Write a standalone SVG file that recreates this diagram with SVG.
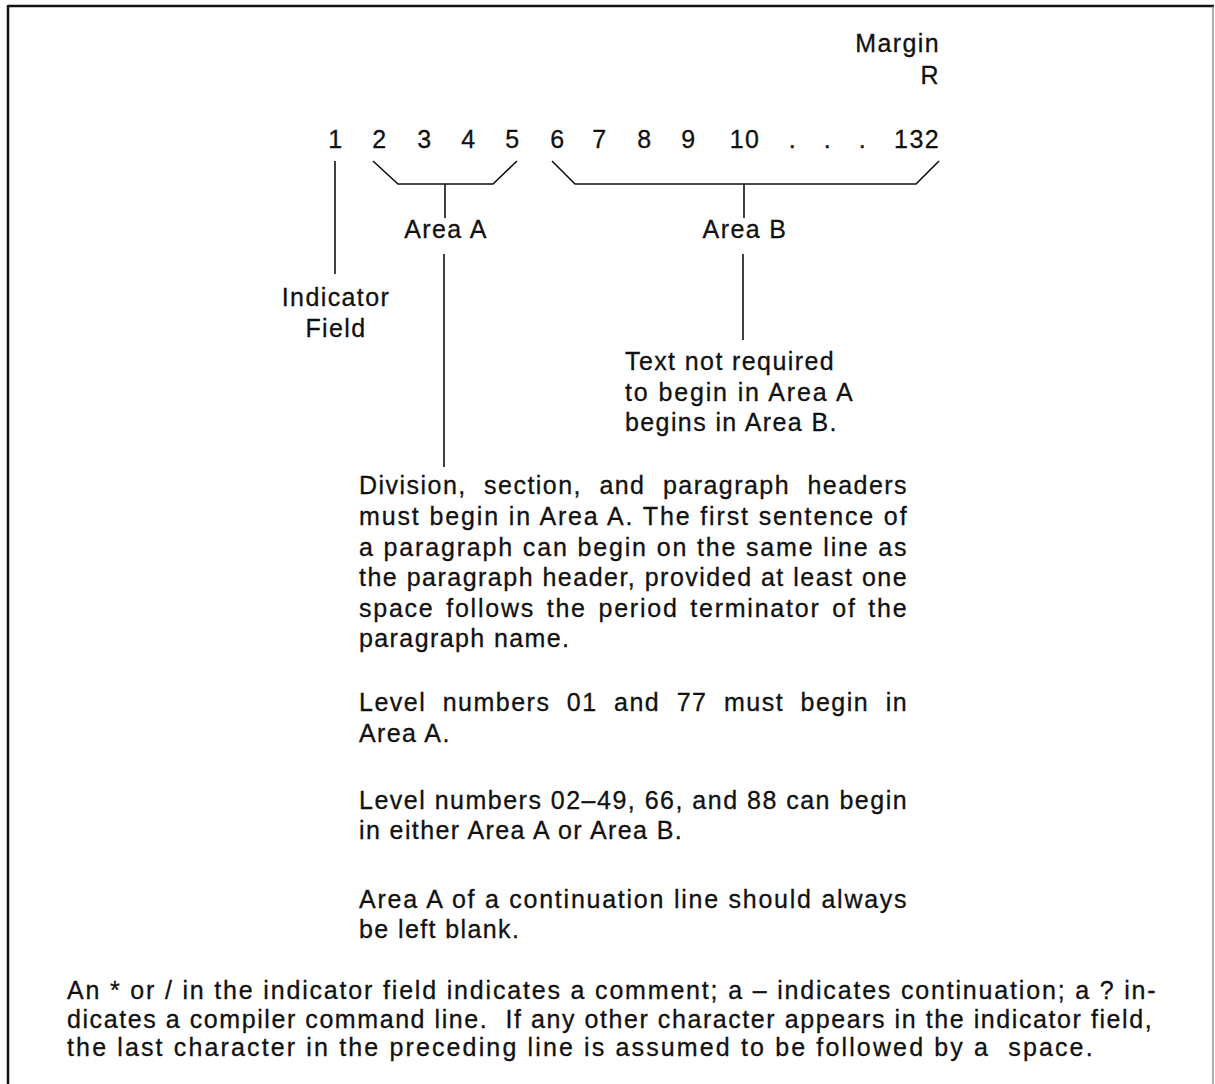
<svg xmlns="http://www.w3.org/2000/svg" width="1215" height="1084" viewBox="0 0 1215 1084">
  <style>
    text { font-family: "Liberation Sans", Arial, Helvetica, sans-serif; font-size: 25px; fill: #111; stroke: #111; stroke-width: 0.3px; letter-spacing: 1.4px; }
    .mid { text-anchor: middle; }
    .end { text-anchor: end; }
    .ln { stroke: #111; stroke-width: 1.6; fill: none; }
    .frame { stroke: #111; stroke-width: 2.5; fill: none; }
  </style>

  <rect width="1215" height="1084" fill="#fff"/>

  <!-- page frame (open at the bottom) -->
  <g id="frame">
    <line class="frame" x1="8" y1="6" x2="1214" y2="6"/>
    <line class="frame" x1="8" y1="5" x2="8" y2="1084"/>
    <line x1="1213" y1="6" x2="1213" y2="1084" stroke="#777" stroke-width="1.2"/>
  </g>

  <g id="margin-r">
    <text class="end" x="940" y="52">Margin</text>
    <text class="end" x="940" y="84">R</text>
  </g>

  <!-- column numbers -->
  <g id="columns">
    <text class="mid" x="336" y="148">1</text>
    <text class="mid" x="380" y="148">2</text>
    <text class="mid" x="425" y="148">3</text>
    <text class="mid" x="469" y="148">4</text>
    <text class="mid" x="513" y="148">5</text>
    <text class="mid" x="558" y="148">6</text>
    <text class="mid" x="600" y="148">7</text>
    <text class="mid" x="645" y="148">8</text>
    <text class="mid" x="689" y="148">9</text>
    <text class="mid" x="745" y="148">10</text>
    <text class="mid" x="793" y="148">.</text>
    <text class="mid" x="828" y="148">.</text>
    <text class="mid" x="863" y="148">.</text>
    <text class="end" x="940" y="148">132</text>
  </g>

  <g id="connectors">
    <!-- Area A bracket, columns 2-5 -->
    <polyline class="ln" points="373,161 398,184 493,184 517,161"/>
    <line class="ln" x1="445" y1="184" x2="445" y2="218"/>
    <!-- Area B bracket, columns 6-132 -->
    <polyline class="ln" points="552,161 575,184 916,184 939,161"/>
    <line class="ln" x1="744" y1="184" x2="744" y2="218"/>
    <!-- indicator column -->
    <line class="ln" x1="335" y1="161" x2="335" y2="274"/>
    <!-- Area A to its notes -->
    <line class="ln" x1="444" y1="254" x2="444" y2="467"/>
    <!-- Area B to its note -->
    <line class="ln" x1="743" y1="254" x2="743" y2="340"/>
  </g>

  <g id="area-a">
    <text class="mid" x="446" y="238">Area A</text>
  </g>

  <g id="area-b">
    <text class="mid" x="745" y="238">Area B</text>
  </g>

  <g id="indicator-field">
    <text class="mid" x="336" y="306">Indicator</text>
    <text class="mid" x="336" y="337">Field</text>
  </g>

  <g id="area-b-note">
    <text x="625" y="370">Text not required</text>
    <text x="625" y="401" textLength="229" lengthAdjust="spacing">to begin in Area A</text>
    <text x="625" y="431">begins in Area B.</text>
  </g>

  <!-- justified lines: extra word gaps, then textLength pins the right edge -->
  <g id="area-a-notes">
    <text x="359" y="494" word-spacing="9" textLength="549" lengthAdjust="spacing">Division, section, and paragraph headers</text>
    <text x="359" y="525" textLength="549" lengthAdjust="spacing">must begin in Area A. The first sentence of</text>
    <text x="359" y="556" textLength="549" lengthAdjust="spacing">a paragraph can begin on the same line as</text>
    <text x="359" y="586" textLength="549" lengthAdjust="spacing">the paragraph header, provided at least one</text>
    <text x="359" y="617" word-spacing="3" textLength="549" lengthAdjust="spacing">space follows the period terminator of the</text>
    <text x="359" y="647">paragraph name.</text>

    <text x="359" y="711" word-spacing="8" textLength="549" lengthAdjust="spacing">Level numbers 01 and 77 must begin in</text>
    <text x="359" y="742">Area A.</text>

    <text x="359" y="809" textLength="549" lengthAdjust="spacing">Level numbers 02–49, 66, and 88 can begin</text>
    <text x="359" y="839">in either Area A or Area B.</text>

    <text x="359" y="908" textLength="549" lengthAdjust="spacing">Area A of a continuation line should always</text>
    <text x="359" y="938">be left blank.</text>
  </g>

  <g id="indicator-note">
    <text x="67" y="999" textLength="1090" lengthAdjust="spacing">An * or / in the indicator field indicates a comment; a – indicates continuation; a ? in-</text>
    <text x="67" y="1028" textLength="1086" lengthAdjust="spacing">dicates a compiler command line.&#160; If any other character appears in the indicator field,</text>
    <text x="67" y="1056" textLength="1027" lengthAdjust="spacing">the last character in the preceding line is assumed to be followed by a&#160; space.</text>
  </g>
</svg>
